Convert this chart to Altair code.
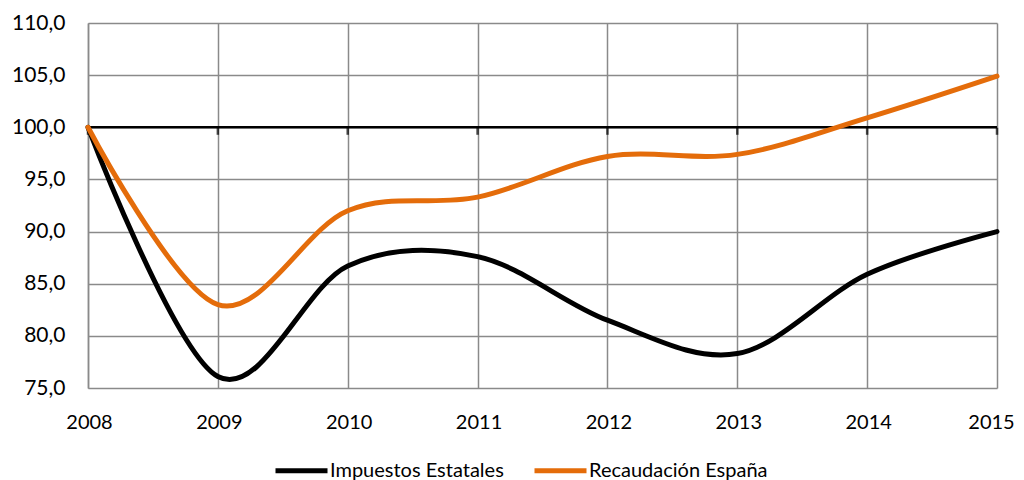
import altair as alt
import pandas as pd

years = [2008, 2009, 2010, 2011, 2012, 2013, 2014, 2015]
impuestos = [100.0, 76.1, 86.7, 87.6, 81.5, 78.3, 85.9, 90.0]
recaudacion = [100.0, 83.0, 92.0, 93.3, 97.2, 97.4, 100.9, 104.9]
series_names = ["Impuestos Estatales", "Recaudación España"]
series_colors = ["#000000", "#E46C0A"]
y_ticks = [75, 80, 85, 90, 95, 100, 105, 110]

df_a = pd.DataFrame({"year": years, "value": impuestos, "serie": series_names[0]})
df_b = pd.DataFrame({"year": years, "value": recaudacion, "serie": series_names[1]})
df_ticks = pd.DataFrame({"year": years, "value": [100] * len(years)})
df_rule = pd.DataFrame({"value": [100]})

FONT = "Lato"

x_enc = alt.X(
    "year:Q",
    scale=alt.Scale(domain=[2008, 2015], nice=False),
    axis=alt.Axis(values=years, format="d", title=None, grid=True, domain=False,
                  ticks=False, labelPadding=24, labelFontSize=20, labelFont=FONT,
                  labelColor="#000000", gridColor="#8a8a8a", gridWidth=1.5,
                  labelFlush=False,
                  labelOffset={"condition": {"test": "datum.value == 2015", "value": -6},
                               "value": 1}),
)
y_enc = alt.Y(
    "value:Q",
    scale=alt.Scale(domain=[75, 110], nice=False, zero=False),
    axis=alt.Axis(values=y_ticks, title=None, grid=True, domain=True,
                  domainColor="#8a8a8a", domainWidth=1.5, ticks=False,
                  labelPadding=23, labelFontSize=21, labelFont=FONT,
                  labelColor="#000000", gridColor="#8a8a8a", gridWidth=1.5,
                  labelExpr="replace(format(datum.value, '.1f'), '.', ',')"),
)
color_enc = alt.Color(
    "serie:N",
    scale=alt.Scale(domain=series_names, range=series_colors),
    legend=alt.Legend(title=None, orient="none", legendX=185, legendY=419,
                      direction="horizontal",
                      symbolType="stroke", symbolStrokeWidth=5, symbolSize=2704,
                      labelFont=FONT, labelFontSize=20, labelColor="#000000",
                      labelOffset=0, columnPadding=20, labelLimit=0),
)

rule100 = alt.Chart(df_rule).mark_rule(color="#000000", strokeWidth=2.5).encode(
    y=alt.Y("value:Q", scale=alt.Scale(domain=[75, 110], nice=False, zero=False))
)
ticks = alt.Chart(df_ticks).mark_tick(
    orient="vertical", color="#000000", size=7, thickness=2.5, yOffset=4
).encode(x=x_enc, y=y_enc)

line_a = alt.Chart(df_a).mark_line(interpolate="cardinal", strokeWidth=5,
                                   strokeCap="round").encode(
    x=x_enc, y=y_enc, color=color_enc)
line_b = alt.Chart(df_b).mark_line(interpolate="cardinal", strokeWidth=5,
                                   strokeCap="round").encode(
    x=x_enc, y=y_enc, color=color_enc)

chart = alt.layer(rule100, ticks, line_a, line_b).properties(
    width=909, height=365,
    autosize=alt.AutoSizeParams(type="none"),
    padding={"left": 80, "top": 15, "right": 19, "bottom": 92},
).configure_view(stroke=None)

chart.save("out.html", embed_options={"renderer": "svg", "actions": False})
